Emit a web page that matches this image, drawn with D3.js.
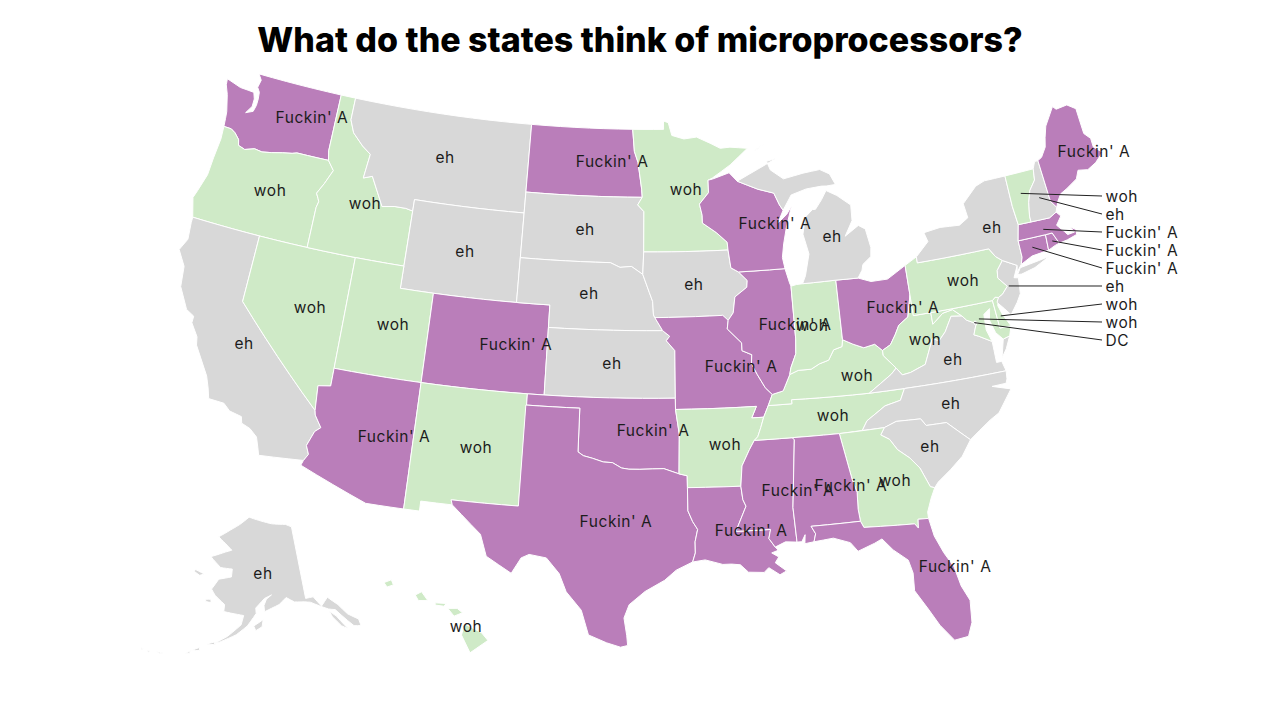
<!DOCTYPE html>
<html lang="en">
<head>
<meta charset="utf-8">
<script src="https://cdnjs.cloudflare.com/ajax/libs/d3/7.8.5/d3.min.js"></script>
<style>
  html, body { margin: 0; background: #fff; }
  text { font-family: Inter, "Noto Sans", sans-serif; fill: #1c1c1c; }
  .title { font-size: 34px; font-weight: 800; fill: #000; text-anchor: middle; }
  .label { font-size: 15.5px; letter-spacing: .55px; text-anchor: middle; dominant-baseline: central; }
  .note { font-size: 15.5px; letter-spacing: .55px; dominant-baseline: central; }
  .state { stroke: #fff; stroke-width: 1; stroke-linejoin: round; }
  .leader { stroke: #222; stroke-width: 1; fill: none; }
</style>
</head>
<body>
<svg id="map" width="1280" height="720"></svg>
<script>
const chartTitle = 'What do the states think of microprocessors?';
const answerNames = ['woh', 'eh', "Fuckin' A"];
const answerColors = ['#cfeac7', '#d8d8d8', '#ba7eba'];

const stateIds = ['WA','OR','CA','NV','ID','MT','WY','UT','AZ','CO','NM','ND','SD','NE','KS','OK','TX','MN','IA','MO','AR','LA','MS','TN','KY','IL','IN','OH','WV','VA','NC','SC','GA','AL','FL','MD','DE','DC','PA','NJ','NY','CT','RI','MA','VT','NH','ME','WI','MI','AK','HI'];
const stateAnswers = ["Fuckin' A",'woh','eh','woh','woh','eh','eh','woh',"Fuckin' A","Fuckin' A",'woh',"Fuckin' A",'eh','eh','eh',"Fuckin' A","Fuckin' A",'woh','eh',"Fuckin' A",'woh',"Fuckin' A","Fuckin' A",'woh','woh',"Fuckin' A",'woh',"Fuckin' A",'woh','eh','eh','eh','woh',"Fuckin' A","Fuckin' A",'woh','woh','eh','woh','eh','eh',"Fuckin' A","Fuckin' A","Fuckin' A",'woh','eh',"Fuckin' A","Fuckin' A",'eh','eh','woh'];

// where each label sits, lon/lat
const labelStates = ['WA','OR','CA','NV','ID','MT','WY','UT','AZ','CO','NM','ND','SD','NE','KS','OK','TX','MN','IA','MO','AR','LA','MS','TN','KY','IL','IN','OH','WV','VA','NC','SC','GA','AL','FL','PA','NY','ME','WI','MI','AK','HI'];
const labelLons = [-118.69,-120.14,-119.40,-116.17,-114.15,-109.59,-107.54,-111.21,-110.18,-103.94,-105.65,-98.63,-100.21,-99.80,-98.31,-95.94,-97.90,-93.80,-93.45,-90.86,-91.98,-90.80,-88.18,-85.89,-84.29,-87.55,-86.55,-81.10,-80.13,-78.74,-79.30,-80.82,-82.97,-85.33,-80.54,-77.31,-74.92,-67.53,-88.24,-84.77,-152.17,-155.88];
const labelLats = [47.76,44.09,37.26,39.48,44.46,47.13,43.04,39.42,34.52,39.20,34.49,47.59,44.50,41.62,38.55,35.64,31.58,46.34,42.09,38.37,34.95,31.07,32.71,35.88,37.48,40.02,39.94,40.18,38.62,37.57,35.63,33.94,32.64,32.70,28.44,40.89,42.93,45.07,44.61,43.74,64.15,20.20];

// leader-line states, top to bottom
const noteStates = ['VT','NH','MA','RI','CT','NJ','DE','MD','DC'];
const noteLons = [-72.69,-71.64,-71.89,-71.54,-72.80,-74.71,-75.55,-76.83,-77.14];
const noteLats = [44.13,43.74,42.33,41.73,41.68,40.25,39.03,39.10,38.98];

// shared borders, lon/lat
const columbia = [[-124,46.28],[-123.5,46.27],[-123.2,46.15],[-122.85,45.9],[-122.75,45.65],[-122.3,45.55],[-121.7,45.7],[-121.2,45.65],[-120.6,45.73],[-119.9,45.85],[-119.3,45.93],[-119,46],[-116.92,46]];
const snake = [[-116.92,46],[-116.47,45.6],[-116.85,44.95],[-117.2,44.45],[-117.03,44.23],[-116.95,44.1],[-117.03,43.83],[-117.03,42]];
const coloradoR = [[-114.74,36.1],[-114.63,35],[-114.57,34.8],[-114.14,34.3],[-114.43,34.08],[-114.72,33.4],[-114.52,33.03],[-114.72,32.72]];
const idMt = [[-116.05,49],[-116.05,48],[-115.7,47.45],[-114.95,46.95],[-114.35,46.65],[-114.5,45.55],[-113.95,45.7],[-113.45,45.05],[-113,44.45],[-112.2,44.55],[-111.5,44.55],[-111.05,44.48]];
const missUpper = [[-92.75,44.75],[-91.9,44.3],[-91.25,43.85],[-91.22,43.5]];
const missIaWi = [[-91.22,43.5],[-91.1,42.7],[-90.65,42.5]];
const missIaIl = [[-90.65,42.5],[-90.15,42.1],[-90.2,41.8],[-90.95,41.4],[-91.1,40.7],[-91.42,40.38]];
const missMoIl = [[-91.42,40.38],[-91.5,40],[-90.7,39.35],[-90.7,39],[-90.15,38.8],[-90.2,38.4],[-89.9,37.9],[-89.5,37.3],[-89.13,36.98]];
const missMoKy = [[-89.13,36.98],[-89.4,36.5]];
const missMoTn = [[-89.4,36.5],[-89.7,36]];
const missArTn = [[-89.7,36],[-89.9,35.55],[-90.1,35.15],[-90.3,35]];
const missArMs = [[-90.3,35],[-90.6,34.6],[-91.05,33.9],[-91.17,33]];
const missLaMs = [[-91.17,33],[-91.1,32.4],[-90.95,32.1],[-91.55,31]];
const ohioIlKy = [[-88.05,37.8],[-88.5,37.1],[-89.13,36.98]];
const ohioInKy = [[-84.82,39.1],[-84.9,38.8],[-85.4,38.7],[-85.75,38.27],[-86.3,38.15],[-86.8,37.95],[-87.55,37.95],[-88.05,37.8]];
const ohioOhKy = [[-82.6,38.4],[-83,38.72],[-83.65,38.63],[-84.25,38.85],[-84.82,39.1]];
const ohioOhWv = [[-80.52,40.64],[-80.85,39.7],[-81.45,39.4],[-81.75,39],[-82.1,38.6],[-82.6,38.4]];
const wabash = [[-87.53,39.35],[-87.6,38.7],[-87.95,38.1],[-88.05,37.8]];
const moKs = [[-95.31,40],[-94.9,39.75],[-95.1,39.55],[-94.61,39.11]];
const moNe = [[-96.5,42.5],[-96.1,41.7],[-95.9,41.3],[-95.85,40.7],[-95.77,40.58],[-95.31,40]];
const moSd = [[-98.5,43],[-97.9,42.8],[-97.2,42.85],[-96.5,42.5]];
const redNd = [[-97.23,49],[-97.1,48],[-96.85,47.5],[-96.6,46.3],[-96.56,45.94]];
const sdMn = [[-96.56,45.94],[-96.85,45.6],[-96.45,45.3],[-96.45,43.5]];
const redTx = [[-100,34.56],[-99.7,34.4],[-99.2,34.3],[-98.6,34.15],[-98.1,34.13],[-97.6,33.9],[-97.2,33.85],[-96.6,33.85],[-95.9,33.87],[-95.3,33.88],[-94.48,33.64]];
const sabine = [[-94.04,31.99],[-93.8,31.5],[-93.55,31.15],[-93.7,30.6],[-93.7,30.1],[-93.85,29.7]];
const pearl = [[-89.73,31],[-89.85,30.6],[-89.55,30.2]];
const chatt = [[-85.18,32.87],[-85,32.3],[-85.05,31.55],[-85,31]];
const savannah = [[-83.1,35],[-83.35,34.7],[-82.9,34.45],[-82.55,33.95],[-81.95,33.5],[-81.5,33],[-81.1,32.1],[-80.88,32.03]];
const stMarys = [[-84.86,30.71],[-82.21,30.57],[-82.05,30.36],[-82,30.75],[-81.45,30.72]];
const ncSc = [[-83.1,35],[-82.4,35.2],[-81.05,35.15],[-80.8,34.82],[-79.68,34.8],[-78.55,33.86]];
const ncTn = [[-81.68,36.59],[-82,36.1],[-82.9,35.95],[-84,35.4],[-84.32,35]];
const potomac = [[-76.3,37.95],[-77,38.3],[-77.25,38.4],[-77.04,38.79],[-77.12,38.93],[-77.5,39.1],[-77.72,39.32]];
const vaWv = [[-77.72,39.32],[-78.35,39.4],[-78.85,38.77],[-79.3,38.42],[-79.65,38.58],[-80.3,37.5],[-81.2,37.25],[-81.68,37.2],[-81.97,37.54]];
const kyVa = [[-81.97,37.54],[-82.3,37.3],[-83.68,36.6]];
const kyWv = [[-82.6,38.4],[-82.6,38.17],[-81.97,37.54]];
const nyPa = [[-75.35,42],[-75.05,41.6],[-74.7,41.36]];
const njPa = [[-74.7,41.36],[-75.13,40.98],[-75.2,40.65],[-74.75,40.2],[-75.13,39.9],[-75.4,39.8]];
const vtNh = [[-71.5,45],[-71.6,44.5],[-72.05,44.1],[-72.3,43.6],[-72.46,43],[-72.46,42.73]];
const meNh = [[-71.08,45.3],[-70.98,43.4],[-70.7,43.07]];
const back = s => s.slice().reverse();

const stateRings = [
  // WA
  [[[-122.76,49],[-117.04,49],[-117.04,46.42],...back(columbia),[-124.05,46.65],[-124.1,46.95],[-124.4,47.7],[-124.65,48.1],[-124.7,48.38],[-123.7,48.17],[-123.1,48.15],[-122.75,48.13],[-122.6,47.85],[-122.6,47.5],[-122.9,47.15],[-122.75,47.2],[-122.45,47.3],[-122.35,47.6],[-122.35,47.9],[-122.4,48.2],[-122.6,48.4],[-122.5,48.75]]],
  // OR
  [[...columbia,...snake,[-124.21,42],[-124.55,42.84],[-124.4,43.2],[-124.1,44],[-124.05,44.8],[-123.95,45.7]]],
  // CA
  [[[-124.21,42],[-120,42],[-120,39],...coloradoR.slice(1),[-117.12,32.53],[-117.25,32.85],[-117.45,33.3],[-117.9,33.6],[-118.4,33.75],[-118.5,34.03],[-119.2,34.15],[-119.6,34.42],[-120.47,34.45],[-120.65,34.9],[-120.9,35.4],[-121.9,36.6],[-122,36.96],[-122.5,37.5],[-122.5,37.8],[-123,38],[-123.7,38.9],[-123.85,39.8],[-124.42,40.45],[-124.1,41],[-124.2,41.75]]],
  // NV
  [[[-120,42],[-114.04,42],[-114.04,36.2],[-114.74,36.1],[-114.63,35],[-120,39]]],
  // ID
  [[[-117.04,49],...idMt,[-111.05,42],...back(snake),[-117.04,46.42]]],
  // MT
  [[[-116.05,49],[-104.05,49],[-104.05,45],[-111.05,45],...back(idMt)]],
  // WY
  [[[-111.05,45],[-104.05,45],[-104.05,41],[-111.05,41]]],
  // UT
  [[[-114.04,42],[-111.05,42],[-111.05,41],[-109.05,41],[-109.05,37],[-114.04,37]]],
  // AZ
  [[[-114.04,37],[-109.05,37],[-109.05,31.33],[-111.07,31.33],[-114.81,32.49],...back(coloradoR),[-114.04,36.2]]],
  // CO
  [[[-109.05,41],[-102.05,41],[-102.05,37],[-109.05,37]]],
  // NM
  [[[-109.05,37],[-103,37],[-103.04,32],[-106.62,32],[-106.53,31.78],[-108.21,31.78],[-108.21,31.33],[-109.05,31.33]]],
  // ND
  [[[-104.05,49],...redNd,[-104.05,45.94]]],
  // SD
  [[[-104.05,45.94],...sdMn,...back(moSd),[-104.05,43]]],
  // NE
  [[[-104.05,43],...moSd,...moNe,[-102.05,40],[-102.05,41],[-104.05,41]]],
  // KS
  [[[-102.05,40],...moKs,[-94.62,37],[-102.05,37]]],
  // OK
  [[[-103,37],[-94.62,37],[-94.62,36.5],[-94.43,35.4],...back(redTx),[-100,36.5],[-103,36.5]]],
  // TX
  [[[-103.04,36.5],[-100,36.5],...redTx,[-94.04,33.55],...sabine,[-94.7,29.35],[-95.3,28.9],[-96.3,28.4],[-97.1,27.8],[-97.35,27.2],[-97.2,26.4],[-97.15,25.96],[-97.5,25.88],[-98.2,26.07],[-99.1,26.4],[-99.5,27.5],[-100.3,28.3],[-100.7,29.1],[-101.4,29.77],[-102.3,29.88],[-102.7,29.7],[-103.15,28.98],[-104.5,29.65],[-104.9,30.6],[-106,31.4],[-106.53,31.78],[-106.62,32],[-103.04,32]]],
  // MN
  [[[-97.23,49],[-95.15,49],[-95.15,49.38],[-94.83,49.3],[-94.6,48.72],[-93.8,48.55],[-92.95,48.62],[-92,48.3],[-91.4,48.07],[-90.75,48.1],[-89.6,48],[-90.8,47.3],[-92,46.75],[-92.29,46.66],[-92.29,46.1],[-92.9,45.6],[-92.75,45.1],...missUpper,...back(sdMn),...back(redNd)]],
  // IA
  [[[-96.45,43.5],...missIaWi,...missIaIl,[-91.73,40.61],...back(moNe).slice(1)]],
  // MO
  [[[-95.77,40.58],[-91.73,40.61],...missMoIl,...missMoKy,...missMoTn,[-90.37,36],[-90.07,36.5],[-94.62,36.5],[-94.62,37],...back(moKs)]],
  // AR
  [[[-94.62,36.5],[-90.07,36.5],[-90.37,36],...missArTn,...missArMs,[-94.04,33.02],[-94.04,33.55],[-94.48,33.64],[-94.43,35.4]]],
  // LA
  [[[-94.04,33.02],...missLaMs,...pearl,[-89.4,30.05],[-89.75,29.95],[-89.4,29.75],[-89.6,29.5],[-89.05,29.1],[-89.4,28.95],[-89.95,29.3],[-90.2,29.1],[-91,29.15],[-91.4,29.5],[-91.85,29.55],[-92.3,29.55],[-93.2,29.78],...back(sabine)]],
  // MS
  [[[-90.3,35],[-88.2,35],[-88.1,34.9],[-88.47,31.9],[-88.4,30.35],[-89,30.4],...back(pearl),...back(missLaMs),...back(missArMs)]],
  // TN
  [[...back(missArTn),...back(missMoTn),[-88.07,36.5],[-88.07,36.68],[-86.5,36.65],[-83.68,36.6],...ncTn,[-85.6,34.98],[-88.2,35]]],
  // KY
  [[...back(missMoKy),...back(ohioIlKy),...back(ohioInKy),...back(ohioOhKy),...kyWv,...kyVa,[-86.5,36.65],[-88.07,36.68],[-88.07,36.5]]],
  // IL
  [[[-90.65,42.5],[-87.8,42.5],[-87.6,41.85],[-87.53,41.7],...wabash,...ohioIlKy,...back(missMoIl),...back(missIaIl)]],
  // IN
  [[[-87.53,41.7],[-87.2,41.75],[-86.82,41.76],[-84.8,41.76],...ohioInKy,...back(wabash)]],
  // OH
  [[[-84.8,41.76],[-83.45,41.73],[-82.7,41.5],[-81.7,41.5],[-80.52,41.98],...ohioOhWv,...ohioOhKy]],
  // WV
  [[...ohioOhWv,...kyWv,...back(vaWv),[-78.2,39.68],[-78.8,39.6],[-79.48,39.2],[-79.48,39.72],[-80.52,39.72]]],
  // VA
  [[[-75.87,36.55],[-76,37],[-76.3,37],[-76.3,37.55],...potomac,...vaWv,...kyVa,[-81.68,36.59]],[[-75.94,37.15],[-75.6,37.5],[-75.25,38.03],[-75.65,37.95]]],
  // NC
  [[...ncSc,[-77.95,34.2],[-77.3,34.55],[-76.74,34.79],[-75.82,35.72],[-76.82,36],[-76.02,36.01],[-75.92,36.19],[-75.87,36.55],[-81.68,36.59],...ncTn]],
  // SC
  [[...ncSc,[-79.15,33.2],[-79.9,32.7],[-80.65,32.25],...back(savannah)]],
  // GA
  [[[-85.6,34.98],...savannah,[-81.15,31.6],[-81.45,31],...back(stMarys),...back(chatt)]],
  // AL
  [[[-88.2,35],[-85.6,34.98],...chatt,[-87.6,31],[-87.4,30.65],[-87.52,30.3],[-88,30.25],[-87.95,30.65],[-88.15,30.35],[-88.4,30.35],[-88.47,31.9],[-88.1,34.9]]],
  // FL
  [[[-87.6,31],[-85,31],...stMarys,[-81.3,29.9],[-80.95,29.1],[-80.55,28.4],[-80.35,27.5],[-80.03,26.8],[-80.12,25.8],[-80.4,25.2],[-81.1,25.13],[-81.7,25.9],[-82.15,26.7],[-82.7,27.6],[-82.65,28.4],[-82.8,29],[-83.5,29.55],[-84,30.1],[-84.4,29.95],[-85.3,29.68],[-85.65,30.1],[-86.5,30.38],[-87.52,30.3],[-87.4,30.65]]],
  // MD
  [[[-79.48,39.72],[-75.79,39.72],[-75.7,38.46],[-75.05,38.45],[-75.25,38.03],[-75.65,37.95],[-76,38.3],[-76.2,38.9],[-76.05,39.4],[-76.45,39.2],[-76.5,38.5],...potomac,[-78.2,39.68],[-78.8,39.6],[-79.48,39.2]]],
  // DE
  [[[-75.79,39.72],[-75.6,39.84],[-75.4,39.8],[-75.55,39.45],[-75.4,39.05],[-75.05,38.45],[-75.7,38.46]]],
  // DC
  [[[-77.12,38.93],[-77.04,39],[-76.91,38.89],[-77.04,38.79]]],
  // PA
  [[[-80.52,41.98],[-79.76,42.27],[-79.76,42],...nyPa,...njPa,[-75.6,39.84],[-75.79,39.72],[-80.52,39.72]]],
  // NJ
  [[...njPa,[-75.55,39.6],[-75.2,39.25],[-74.9,38.93],[-74.4,39.4],[-74.1,39.75],[-74,40.45],[-74.25,40.5],[-73.9,41]]],
  // NY
  [[[-79.76,42.27],[-79.76,42],...nyPa,[-73.9,41],[-74,40.7],[-73.65,41],[-73.5,41.3],[-73.5,42.05],[-73.26,42.75],[-73.35,43.6],[-73.35,45],[-74.7,45],[-75.3,44.85],[-76.3,44.2],[-76.2,43.55],[-76.8,43.3],[-78,43.37],[-79.05,43.27],[-78.9,42.85]],[[-74,40.6],[-73.75,40.87],[-72.6,40.98],[-71.9,41.05],[-72.9,40.72],[-73.75,40.58]]],
  // CT
  [[[-73.5,42.05],[-71.8,42.02],[-71.85,41.32],[-72.9,41.25],[-73.65,41],[-73.5,41.3]]],
  // RI
  [[[-71.8,42.02],[-71.38,42.02],[-71.12,41.5],[-71.4,41.45],[-71.85,41.32]]],
  // MA
  [[[-73.5,42.05],[-73.26,42.75],[-72.46,42.73],[-71.3,42.7],[-70.82,42.87],[-70.6,42.65],[-71,42.3],[-70.65,41.95],[-70.5,41.77],[-70.05,41.8],[-70.25,42.07],[-69.95,41.9],[-69.97,41.67],[-70.6,41.55],[-71.12,41.5],[-71.38,42.02],[-71.8,42.02]]],
  // VT
  [[[-73.35,45],...vtNh,[-73.26,42.75],[-73.35,43.6]]],
  // NH
  [[...vtNh,[-71.3,42.7],[-70.82,42.87],...back(meNh),[-71.3,45.3]]],
  // ME
  [[...meNh,[-70.55,43.3],[-70.25,43.6],[-69.8,43.75],[-69.05,44.05],[-68.8,44.4],[-68.2,44.3],[-67.6,44.5],[-67,44.85],[-67.45,45.2],[-67.45,45.6],[-67.78,45.9],[-67.8,47.07],[-68.3,47.35],[-69.05,47.3],[-69.23,47.46],[-70,46.7],[-70.25,46.2],[-70.4,45.8],[-70.8,45.4]]],
  // WI
  [[[-92.29,46.66],[-92,46.7],[-90.9,46.95],[-90.4,46.55],[-89.1,46.13],[-88.1,45.9],[-87.8,45.35],[-87.6,45.1],[-88,44.55],[-87.4,44.9],[-87.05,45.25],[-87.5,44.3],[-87.75,43.6],[-87.9,43],[-87.8,42.5],[-90.65,42.5],...back(missIaWi),...back(missUpper),[-92.75,45.1],[-92.9,45.6],[-92.29,46.1]]],
  // MI
  [[[-86.82,41.76],[-84.8,41.76],[-83.45,41.73],[-83.15,42.05],[-83.05,42.3],[-82.5,42.6],[-82.42,43],[-82.6,43.85],[-83,44.05],[-83.9,43.65],[-83.35,44.3],[-83.3,45],[-84.1,45.5],[-84.75,45.78],[-85.1,45.4],[-85.55,45],[-85.75,45],[-86.25,44.7],[-86.5,43.95],[-86.25,43.05],[-86.6,42.1]],[[-90.4,46.55],[-89.1,46.13],[-88.1,45.9],[-87.8,45.35],[-87.6,45.1],[-87,45.75],[-86,45.95],[-85,46],[-84.7,45.98],[-84.1,46],[-84.4,46.5],[-85,46.75],[-86.1,46.67],[-87.4,46.5],[-88.2,46.95],[-88.4,47.35],[-87.75,47.45],[-88.5,47.2],[-89.6,46.83]],[[-89.2,47.85],[-88.45,48.17],[-88.9,47.95]]],
  // AK
  [[[-141,69.65],[-143,70.1],[-148,70.4],[-152,70.85],[-156.6,71.35],[-160,70.3],[-163,69.5],[-166.8,68.35],[-164,67.6],[-161.8,66.9],[-163.8,66.55],[-168,65.65],[-164.5,64.5],[-161,64.5],[-161,63.5],[-164.5,63],[-166,61.6],[-164.8,60.9],[-162,59.9],[-162,59],[-158.5,58.8],[-157,58.7],[-157.5,57.5],[-160.5,55.9],[-163.3,54.8],[-162,55.1],[-158.5,56.2],[-156,57.4],[-153.9,59],[-154,59.7],[-152.5,60.5],[-151.7,60.9],[-149.8,61.3],[-151.2,60.8],[-151.9,60],[-151.8,59.2],[-150,59.6],[-148,60],[-146,60.8],[-144,60.1],[-141.5,59.9],[-140,59.7],[-138,59],[-136,58.3],[-134.5,58],[-131.5,55.3],[-130,55],[-130,55.9],[-132,57],[-133.5,58.5],[-135.5,59.8],[-137.5,58.9],[-139,60.3],[-141,60.3]],
   [[-136,58],[-134.7,57.2],[-133.5,55.8],[-133,55.2],[-134.2,55.8],[-135.6,57.2]],
   [[-154.5,57.4],[-152.2,58.2],[-152.5,57.3],[-154,56.8]],
   [[-167,60.2],[-165.7,60.3],[-165.5,59.9],[-166.9,59.9]],
   [[-171.7,63.6],[-168.8,63.3],[-170,63],[-171.7,63.3]],
   [[-164.9,54.6],[-163.2,55],[-163,54.65]],
   [[-167.9,53.4],[-166.3,54],[-166.2,53.6]],
   [[-169,52.9],[-167.9,53.4],[-168.2,53]],
   [[-174.9,52.1],[-173.5,52.2],[-174.2,52]],
   [[-176.9,51.9],[-176.3,51.95],[-176.5,51.7]],
   [[-178.2,51.9],[-177.7,51.9],[-178,51.7]]],
  // HI
  [[[-155.9,20.25],[-155.1,19.85],[-154.8,19.5],[-155.65,18.95],[-156.05,19.75]],
   [[-156.7,20.95],[-156.25,20.95],[-156,20.75],[-156.4,20.6]],
   [[-158.25,21.55],[-157.95,21.7],[-157.65,21.3],[-158.1,21.3]],
   [[-159.75,22.1],[-159.4,22.23],[-159.3,22],[-159.6,21.9]],
   [[-157.3,21.2],[-156.75,21.17],[-156.9,21.05],[-157.3,21.1]]]
];

const svg = d3.select('#map');
const projection = d3.geoAlbersUsa().scale(1280).translate([640.6, 360]);
const path = d3.geoPath(projection);
const answerColor = d3.scaleOrdinal(answerNames, answerColors);

// long straight edges have to follow the parallels, so cut them up
function densify(ring) {
  const out = [];
  ring.forEach((p, i) => {
    const q = ring[(i + 1) % ring.length];
    const n = Math.max(Math.ceil(Math.abs(q[0] - p[0])), 1);
    for (let k = 0; k < n; k++) {
      out.push([p[0] + (q[0] - p[0]) * k / n, p[1] + (q[1] - p[1]) * k / n]);
    }
  });
  out.push(out[0].slice());
  return out;
}

function toFeature(rings, i) {
  const polys = rings.map(r => {
    let ring = densify(r);
    if (d3.geoArea({type: 'Polygon', coordinates: [ring]}) > 2 * Math.PI) ring = ring.reverse();
    return [ring];
  });
  return {type: 'Feature', id: stateIds[i], answer: stateAnswers[i], geometry: {type: 'MultiPolygon', coordinates: polys}};
}

const features = stateRings.map(toFeature);

svg.selectAll('path.state').data(features).enter().append('path')
  .attr('class', 'state')
  .attr('d', path)
  .attr('fill', d => answerColor(d.answer));

svg.append('text').attr('class', 'title').attr('x', 640).attr('y', 52).text(chartTitle);

// anchors were read with the map one pixel over
const annotations = svg.append('g').attr('transform', 'translate(1,1)');

// labels inside the states
annotations.selectAll('text.label').data(labelStates).enter().append('text')
  .attr('class', 'label')
  .attr('x', (d, i) => projection([labelLons[i], labelLats[i]])[0])
  .attr('y', (d, i) => projection([labelLons[i], labelLats[i]])[1])
  .text(d => stateAnswers[stateIds.indexOf(d)]);

// small states get a leader line out to the right
const noteY = d3.scalePoint().domain(noteStates).range([195, 339]);
const noteX = 1101;

annotations.selectAll('line.leader').data(noteStates).enter().append('line')
  .attr('class', 'leader')
  .attr('x1', (d, i) => projection([noteLons[i], noteLats[i]])[0])
  .attr('y1', (d, i) => projection([noteLons[i], noteLats[i]])[1])
  .attr('x2', noteX)
  .attr('y2', d => noteY(d));

annotations.selectAll('text.note').data(noteStates).enter().append('text')
  .attr('class', 'note')
  .attr('x', noteX + 3.5)
  .attr('y', d => noteY(d))
  .text(d => d === 'DC' ? 'DC' : stateAnswers[stateIds.indexOf(d)]);
</script>
</body>
</html>
